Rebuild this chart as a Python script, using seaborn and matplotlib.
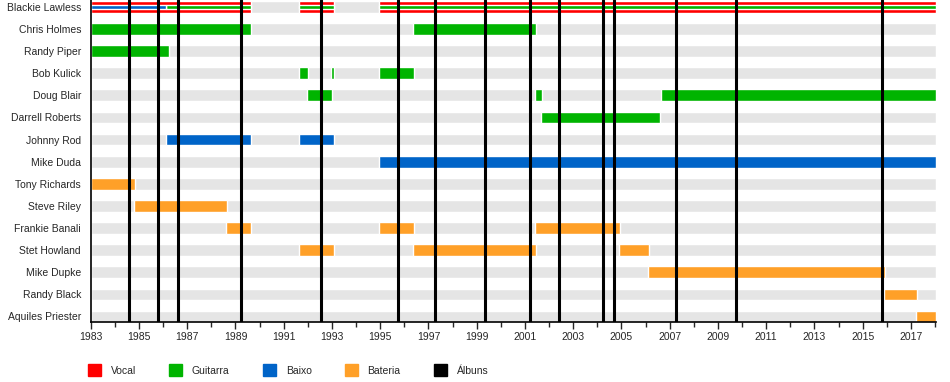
import matplotlib
matplotlib.use('Agg')
import matplotlib.pyplot as plt
import seaborn as sns
from matplotlib.patches import Patch

sns.set_style('white')
plt.rcParams['font.family'] = ['Liberation Sans', 'DejaVu Sans']

# Members, top to bottom
members = ['Blackie Lawless', 'Chris Holmes', 'Randy Piper', 'Bob Kulick', 'Doug Blair',
           'Darrell Roberts', 'Johnny Rod', 'Mike Duda', 'Tony Richards', 'Steve Riley',
           'Frankie Banali', 'Stet Howland', 'Mike Dupke', 'Randy Black', 'Aquiles Priester']

# (member, start, end) in decimal years
vocal = [('Blackie Lawless', 1983.0, 1989.63), ('Blackie Lawless', 1991.64, 1993.07),
         ('Blackie Lawless', 1994.95, 2018.03)]
guitar = [('Chris Holmes', 1983.0, 1989.63), ('Chris Holmes', 1996.37, 2001.46),
          ('Randy Piper', 1983.0, 1986.25),
          ('Bob Kulick', 1991.64, 1991.99), ('Bob Kulick', 1992.96, 1993.07), ('Bob Kulick', 1994.95, 1996.40),
          ('Doug Blair', 1991.97, 1993.0), ('Doug Blair', 2001.42, 2001.71), ('Doug Blair', 2006.64, 2018.03),
          ('Darrell Roberts', 2001.67, 2006.60)]
bass = [('Johnny Rod', 1986.12, 1989.65), ('Johnny Rod', 1991.64, 1993.07),
        ('Mike Duda', 1994.95, 2018.03)]
drums = [('Tony Richards', 1983.0, 1984.84), ('Steve Riley', 1984.80, 1988.65),
         ('Frankie Banali', 1988.61, 1989.63), ('Frankie Banali', 1994.95, 1996.40),
         ('Frankie Banali', 2001.43, 2004.94),
         ('Stet Howland', 1991.64, 1993.07), ('Stet Howland', 1996.37, 2001.46),
         ('Stet Howland', 2004.90, 2006.15),
         ('Mike Dupke', 2006.11, 2015.93), ('Randy Black', 2015.88, 2017.25),
         ('Aquiles Priester', 2017.22, 2018.03)]
# secondary roles drawn as thin stripes
guitar_stripe = [('Blackie Lawless', 1986.11, 1989.63), ('Blackie Lawless', 1991.64, 1993.07),
                 ('Blackie Lawless', 1994.95, 2018.03)]
bass_stripe = [('Blackie Lawless', 1983.0, 1986.11)]

albums = [1984.60, 1985.80, 1986.63, 1989.23, 1992.56, 1995.75, 1997.29, 1999.36,
          2001.23, 2002.43, 2004.25, 2004.70, 2007.28, 2009.77, 2015.80]

start_year, end_year = 1983.0, 2018.03

colors = {'Vocal': '#ff0000', 'Guitarra': '#00b400', 'Baixo': '#0064c8',
          'Bateria': '#ffa028', 'Álbuns': '#000000'}

fig = plt.figure(figsize=(9.5, 3.82), dpi=100)
ax = fig.add_axes([0.0955, 0.157, 0.8895, 0.843])

rows = {m: i for i, m in enumerate(members)}
bh = 0.53

# background bands
ax.barh(range(len(members)), end_year - start_year, left=start_year, height=bh,
        color='#e5e5e5', zorder=1)


def draw(periods, color, h):
    y = [rows[m] for m, s, e in periods]
    left = [s for m, s, e in periods]
    width = [e - s for m, s, e in periods]
    ax.barh(y, width, left=left, height=h, color=color, zorder=2)


draw(vocal, colors['Vocal'], bh)
draw(guitar, colors['Guitarra'], bh)
draw(bass, colors['Baixo'], bh)
draw(drums, colors['Bateria'], bh)
draw(guitar_stripe, colors['Guitarra'], 0.19)
draw(bass_stripe, colors['Baixo'], 0.19)

for a in albums:
    ax.axvline(a, color='black', lw=2.2, zorder=3)

ax.set_xlim(start_year, end_year)
ax.set_ylim(14.25, -0.31)
ax.set_yticks(range(len(members)))
ax.set_yticklabels(members, fontsize=7.5)
ax.tick_params(axis='y', length=0, pad=7)
ax.set_xticks(range(1983, 2018, 2))
ax.set_xticks(range(1983, 2019), minor=True)
ax.tick_params(axis='x', which='major', length=5, width=1, pad=2.5, labelsize=7.5, direction='out')
ax.tick_params(axis='x', which='minor', length=3.5, width=1, direction='out')
ax.xaxis.set_ticks_position('bottom')

for side in ['top', 'right']:
    ax.spines[side].set_visible(False)
for side in ['left', 'bottom']:
    ax.spines[side].set_color('black')
    ax.spines[side].set_linewidth(1.2)

handles = [Patch(color=c) for c in colors.values()]
fig.legend(handles, list(colors.keys()), ncol=5, loc='center left',
           bbox_to_anchor=(88 / 950, 1 - 370 / 382), frameon=False, fontsize=7.5,
           handlelength=1.25, handleheight=1.25, handletextpad=0.93, columnspacing=3.2,
           borderaxespad=0, borderpad=0)

fig.savefig('out.png', dpi=100)
